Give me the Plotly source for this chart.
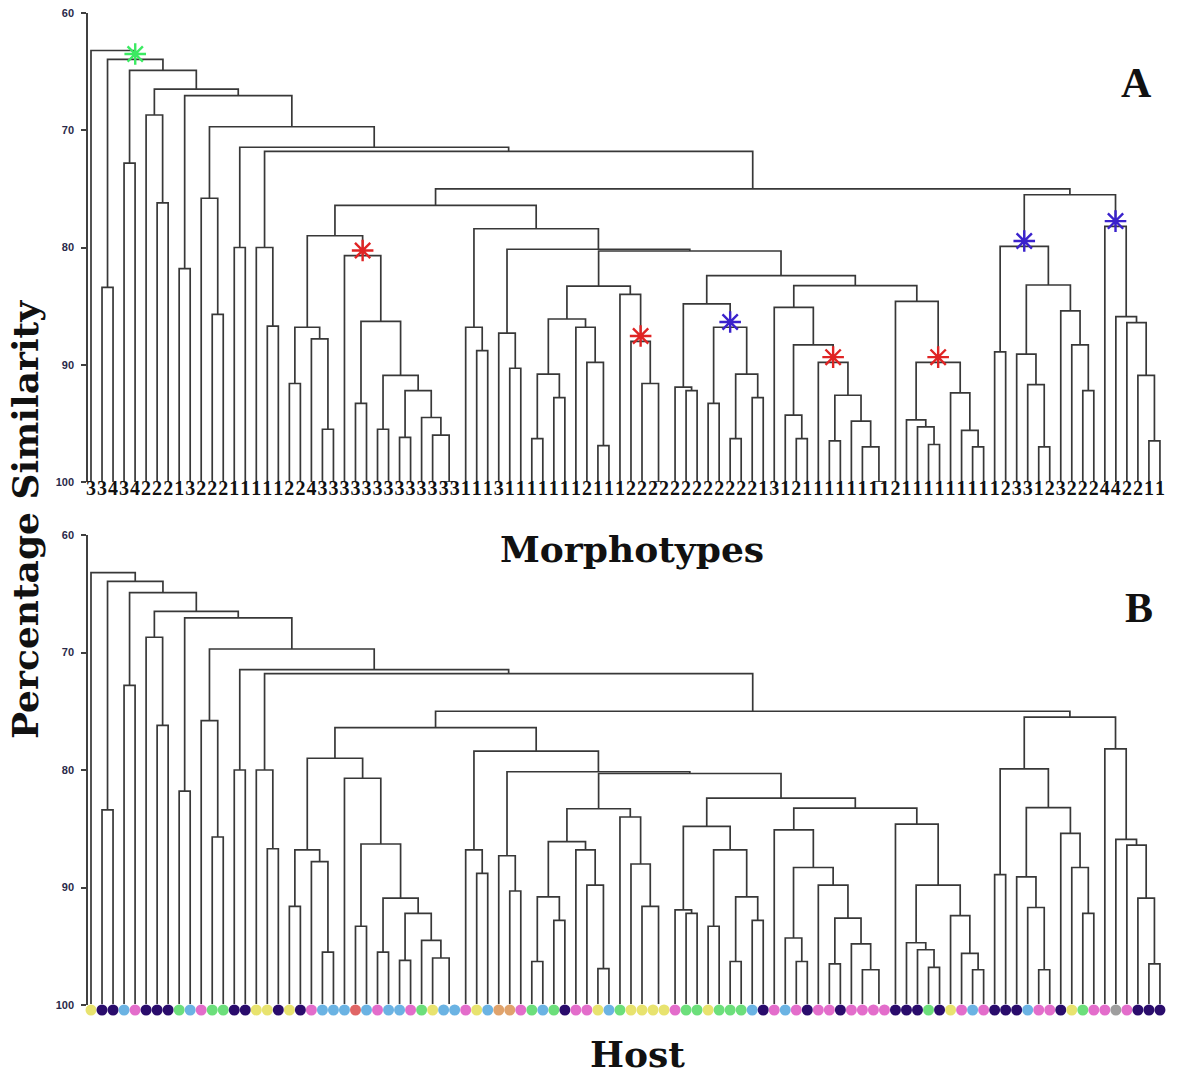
import plotly.graph_objects as go

# ---------------- data ----------------
leaf_ids = list(range(1, 99))

# morphotype label of every leaf (panel A), left to right
morphotypes = [3, 3, 4, 3, 4, 2, 2, 2, 1, 3, 2, 2, 2, 1, 1, 1, 1, 1, 2, 2,
               4, 3, 3, 3, 3, 3, 3, 3, 3, 3, 3, 3, 3, 3, 1, 1, 1, 3, 1, 1,
               1, 1, 1, 1, 1, 2, 1, 1, 1, 2, 2, 2, 2, 2, 2, 2, 2, 2, 2, 2,
               2, 1, 3, 1, 2, 1, 1, 1, 1, 1, 1, 1, 1, 2, 1, 1, 1, 1, 1, 1,
               1, 1, 1, 2, 3, 3, 1, 2, 3, 2, 2, 2, 4, 4, 2, 2, 1, 1]

# host colour code of every leaf (panel B)
hosts = ["Y", "N", "N", "B", "P", "N", "N", "N", "G", "B", "P", "G", "G", "N", "N", "Y", "Y", "N", "Y", "N",
         "P", "B", "B", "B", "R", "B", "P", "B", "B", "P", "G", "Y", "B", "B", "P", "Y", "B", "O", "O", "P",
         "G", "B", "G", "N", "P", "P", "Y", "B", "G", "Y", "Y", "Y", "Y", "P", "G", "G", "Y", "G", "G", "G",
         "B", "N", "P", "B", "P", "N", "P", "P", "N", "P", "P", "P", "P", "N", "N", "N", "G", "N", "Y", "P",
         "B", "P", "N", "N", "N", "B", "P", "P", "N", "Y", "G", "P", "P", "K", "P", "N", "N", "N"]
host_colours = {"Y": "#e8e36f", "N": "#2a0c6c", "B": "#6bb3e3", "P": "#e36dcb",
                "G": "#6cdf7b", "R": "#e06565", "O": "#e0a36c", "K": "#9e9e9e"}

# merges: (node name, left child, right child, percentage similarity)
merge_names = ["n2_3", "n4_5", "n7_8", "n6_8", "n9_10", "n12_13", "n11_13", "n14_15", "n17_18", "n16_18",
               "n19_20", "n22_23", "n21_23", "n19_23", "n33_34", "n32_34", "n31_34", "n29_30", "n29_34", "n27_28",
               "n27_34", "n25_26", "n25_34", "n24_34", "n19_34", "n36_37", "n35_37", "n39_40", "n38_40", "n41_42",
               "n43_44", "n41_44", "n47_48", "n46_48", "n45_48", "n41_48", "n52_53", "n51_53", "n50_53", "n49_53",
               "n41_53", "n55_56", "n54_56", "n57_58", "n59_60", "n61_62", "n59_62", "n57_62", "n54_62", "n65_66",
               "n64_66", "n68_69", "n72_73", "n71_73", "n70_73", "n68_73", "n67_73", "n64_73", "n63_73", "n77_78",
               "n76_78", "n75_78", "n81_82", "n80_82", "n79_82", "n75_82", "n74_82", "n63_82", "n54_82", "n41_82",
               "n38_82", "n35_82", "n19_82", "n83_84", "n87_88", "n86_88", "n85_88", "n91_92", "n90_92", "n89_92",
               "n85_92", "n83_92", "n97_98", "n96_98", "n95_98", "n94_98", "n93_98", "n83_98", "n19_98", "n16_98",
               "n14_98", "n11_98", "n9_98", "n6_98", "n4_98", "n2_98", "root"]
merge_left = [2, 4, 7, 6, 9, 12, 11, 14, 17, 16,
              19, 22, 21, "n19_20", 33, 32, 31, 29, "n29_30", 27,
              "n27_28", 25, "n25_26", 24, "n19_23", 36, 35, 39, 38, 41,
              43, "n41_42", 47, 46, 45, "n41_44", 52, 51, 50, 49,
              "n41_48", 55, 54, 57, 59, 61, "n59_60", "n57_58", "n54_56", 65,
              64, 68, 72, 71, 70, "n68_69", 67, "n64_66", 63, 77,
              76, 75, 81, 80, 79, "n75_78", 74, "n63_73", "n54_62", "n41_53",
              "n38_40", "n35_37", "n19_34", 83, 87, 86, 85, 91, 90, 89,
              "n85_88", "n83_84", 97, 96, 95, 94, 93, "n83_92", "n19_82", "n16_18",
              "n14_15", "n11_13", "n9_10", "n6_8", "n4_5", "n2_3", 1]
merge_right = [3, 5, 8, "n7_8", 10, 13, "n12_13", 15, 18, "n17_18",
               20, 23, "n22_23", "n21_23", 34, "n33_34", "n32_34", 30, "n31_34", 28,
               "n29_34", 26, "n27_34", "n25_34", "n24_34", 37, "n36_37", 40, "n39_40", 42,
               44, "n43_44", 48, "n47_48", "n46_48", "n45_48", 53, "n52_53", "n51_53", "n50_53",
               "n49_53", 56, "n55_56", 58, 60, 62, "n61_62", "n59_62", "n57_62", 66,
               "n65_66", 69, 73, "n72_73", "n71_73", "n70_73", "n68_73", "n67_73", "n64_73", 78,
               "n77_78", "n76_78", 82, "n81_82", "n80_82", "n79_82", "n75_82", "n74_82", "n63_82", "n54_82",
               "n41_82", "n38_82", "n35_82", 84, 88, "n87_88", "n86_88", 92, "n91_92", "n90_92",
               "n89_92", "n85_92", 98, "n97_98", "n96_98", "n95_98", "n94_98", "n93_98", "n83_98", "n19_98",
               "n16_98", "n14_98", "n11_98", "n9_98", "n6_98", "n4_98", "n2_98"]
merge_height = [83.4, 72.8, 76.2, 68.7, 81.8, 85.7, 75.8, 80.0, 86.7, 80.0,
                91.6, 95.5, 87.8, 86.8, 100.0, 96.0, 94.5, 96.2, 92.2, 95.5,
                90.9, 93.3, 86.3, 80.7, 79.0, 88.8, 86.8, 90.3, 87.3, 96.3,
                92.8, 90.8, 96.9, 89.8, 86.8, 86.1, 100.0, 91.6, 88.0, 84.0,
                83.3, 92.2, 91.9, 93.3, 96.3, 92.8, 90.8, 86.8, 84.8, 96.3,
                94.3, 96.5, 100.0, 97.0, 94.8, 92.6, 89.8, 88.3, 85.1, 96.8,
                95.3, 94.7, 97.0, 95.6, 92.4, 89.8, 84.6, 83.25, 82.4, 80.3,
                80.15, 78.4, 76.4, 88.9, 97.0, 91.7, 89.1, 92.2, 88.3, 85.4,
                83.2, 79.9, 96.5, 90.9, 86.4, 85.9, 78.2, 75.5, 75.0, 71.8,
                71.45, 69.7, 67.05, 66.5, 64.9, 63.95, 63.2]

# marked clusters (panel A)
star_nodes = ["n2_98", "n24_34", "n50_53", "n57_62", "n67_73", "n75_82", "n83_92", "n93_98"]
star_colours = ["#3bea62", "#e02424", "#e02424", "#3a22cc", "#e02424", "#e02424", "#3a22cc", "#3a22cc"]

assert len(morphotypes) == 98 and len(hosts) == 98
assert len(merge_names) == len(merge_left) == len(merge_right) == len(merge_height) == 97

# ---------------- dendrogram geometry ----------------
pos = {i: (float(i), 100.0) for i in leaf_ids}
merges = {n: (l, r, h) for n, l, r, h in zip(merge_names, merge_left, merge_right, merge_height)}


def place(node):
    if node in pos:
        return pos[node]
    l, r, h = merges[node]
    xl, _ = place(l)
    xr, _ = place(r)
    pos[node] = ((xl + xr) / 2.0, h)
    return pos[node]


place("root")
seg_x, seg_y = [], []
for n in merge_names:
    l, r, h = merges[n]
    xl, hl = pos[l]
    xr, hr = pos[r]
    seg_x += [xl, xl, xr, xr, None]
    seg_y += [hl, h, h, hr, None]

# ---------------- figure ----------------
W, H = 1182, 1075
fig = go.Figure()
LINE = dict(color="#383838", width=1.7)
fig.add_trace(go.Scatter(x=seg_x, y=seg_y, mode="lines", line=LINE, xaxis="x", yaxis="y",
                         hoverinfo="skip", showlegend=False))
fig.add_trace(go.Scatter(x=seg_x, y=seg_y, mode="lines", line=LINE, xaxis="x2", yaxis="y2",
                         hoverinfo="skip", showlegend=False))

fig.add_trace(go.Scatter(x=[pos[n][0] for n in star_nodes], y=[pos[n][1] - 0.45 for n in star_nodes],
                         mode="markers", xaxis="x", yaxis="y", cliponaxis=False, showlegend=False,
                         hoverinfo="skip",
                         marker=dict(symbol="asterisk-open", size=18, color=star_colours,
                                     line=dict(width=2.4, color=star_colours))))

# host dots on a thin strip axis just under panel B
fig.add_trace(go.Scatter(x=leaf_ids, y=[0.5] * 98, mode="markers", xaxis="x2", yaxis="y3",
                         cliponaxis=False, showlegend=False, hoverinfo="skip",
                         marker=dict(symbol="circle", size=11, color=[host_colours[h] for h in hosts],
                                     line=dict(width=0))))

x0 = 1 - 3 / 11.02
x1 = x0 + 1082 / 11.02
xdom = [88 / W, 1170 / W]
yA = [1 - 482 / H, 1 - 13 / H]
yB = [1 - 1005 / H, 1 - 535 / H]
yDots = [1 - 1016 / H, 1 - 1004 / H]

yax = dict(range=[100, 60], tickvals=[60, 70, 80, 90, 100], ticks="outside", ticklen=5,
           tickcolor="#404040", tickwidth=1.5, showline=True, linecolor="#404040", linewidth=1.5,
           showgrid=False, zeroline=False, automargin=False, ticklabelstandoff=5,
           tickfont=dict(family="Liberation Sans", size=11, color="#2a2a4a", weight="bold"))

fig.update_layout(
    width=W, height=H, template="none", paper_bgcolor="white", plot_bgcolor="white",
    margin=dict(l=0, r=0, t=0, b=0), showlegend=False, hovermode=False,
    xaxis=dict(domain=xdom, range=[x0, x1], anchor="free", position=1 - 474 / H,
               showgrid=False, zeroline=False, showline=False,
               ticks="", tickmode="array", tickvals=leaf_ids,
               ticktext=["<b>%d</b>" % m for m in morphotypes],
               tickangle=0, automargin=False,
               tickfont=dict(family="Liberation Serif", size=20, color="#111111", weight="bold")),
    yaxis=dict(domain=yA, anchor="x", **yax),
    xaxis2=dict(domain=xdom, range=[x0, x1], anchor="y2", showgrid=False, zeroline=False, showline=False,
                ticks="", showticklabels=False, automargin=False),
    yaxis2=dict(domain=yB, anchor="x2", **yax),
    yaxis3=dict(domain=yDots, anchor="x2", range=[0, 1], visible=False, fixedrange=True),
)

title_font = dict(family="DejaVu Serif", size=36, color="#111111", weight="bold")
fig.add_annotation(x=25 / W, y=1 - 520 / H, xref="paper", yref="paper", text="Percentage Similarity",
                   textangle=-90, showarrow=False, font=title_font, xanchor="center", yanchor="middle")
fig.add_annotation(x=632 / W, y=1 - 549 / H, xref="paper", yref="paper", text="Morphotypes",
                   showarrow=False, font=title_font, xanchor="center", yanchor="middle")
fig.add_annotation(x=637 / W, y=1 - 1054 / H, xref="paper", yref="paper", text="Host",
                   showarrow=False, font=title_font, xanchor="center", yanchor="middle")
letter_font = dict(family="Liberation Serif", size=42, color="#111111", weight="bold")
fig.add_annotation(x=1136 / W, y=1 - 83 / H, xref="paper", yref="paper", text="A",
                   showarrow=False, font=letter_font, xanchor="center", yanchor="middle")
fig.add_annotation(x=1139 / W, y=1 - 608 / H, xref="paper", yref="paper", text="B",
                   showarrow=False, font=letter_font, xanchor="center", yanchor="middle")

fig.write_html("out.html", config={"displayModeBar": False},
               post_script="document.body.style.margin='0px';document.body.style.padding='0px';")
